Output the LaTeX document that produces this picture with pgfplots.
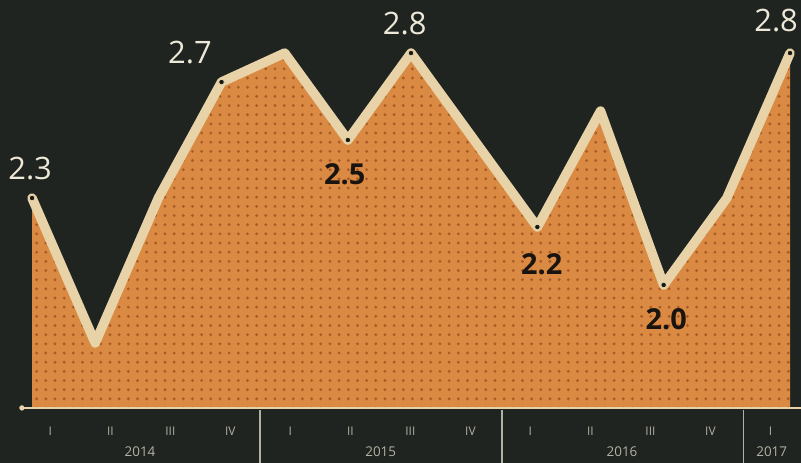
\documentclass[border=0pt]{standalone}
\usepackage{pgfplots}
\usepackage{pgfplotstable}
\pgfplotsset{compat=1.18}
\usetikzlibrary{patterns.meta}
\usepackage{fontspec}
\setmainfont{Open Sans}

\definecolor{bg}{HTML}{1F2420}
\definecolor{fillor}{HTML}{DA8A42}
\definecolor{dotor}{HTML}{A95C28}
\definecolor{linec}{HTML}{E8D3A8}
\definecolor{darklab}{HTML}{1A1410}
\definecolor{lightlab}{HTML}{EEE8D8}
\definecolor{tickc}{HTML}{B2B0A2}

\tikzdeclarepattern{
  name=bigdots,
  type=uncolored,
  bounding box={(-4.6pt,-4.6pt) and (4.6pt,4.6pt)},
  tile size={(9.2pt,9.2pt)},
  code={\fill (0pt,0pt) circle (1.6pt);}
}

% quarterly values, 2014 I .. 2017 I
\pgfplotstableread{
x y
0 2.3
1 1.8
2 2.3
3 2.7
4 2.8
5 2.5
6 2.8
7 2.5
8 2.2
9 2.6
10 2.0
11 2.3
12 2.8
}\series

\pgfplotstableread{
x y
0 1.576
0 2.3
1 1.8
2 2.3
3 2.7
4 2.8
5 2.5
6 2.8
7 2.5
8 2.2
9 2.6
10 2.0
11 2.3
12 2.8
12 1.576
}\area

\pgfplotstableread{
x y
0 2.3
3 2.7
5 2.5
6 2.8
8 2.2
10 2.0
12 2.8
}\marked

\begin{document}
\begin{tikzpicture}[
  qlab/.style={tickc, font=\fontsize{12}{12}\selectfont},
  ylab/.style={tickc, font=\fontsize{13.5}{13.5}\selectfont},
]
\begin{axis}[
  width=801bp, height=463bp, scale only axis,
  xmin=-0.507, xmax=12.174,
  ymin=1.386, ymax=2.983,
  axis line style={draw=none},
  ticks=none,
  axis background/.style={fill=bg},
]
\addplot[fill=fillor, draw=none, postaction={pattern=bigdots, pattern color=dotor}] table {\area};
% baseline
\addplot[linec, line width=1.6bp] coordinates {(-0.16,1.576) (12.17,1.576)};
\addplot[only marks, mark=*, mark size=2.4bp, color=linec] coordinates {(-0.16,1.576)};
\addplot[linec, line width=9.5bp, line join=round, line cap=round] table {\series};
\addplot[only marks, mark=*, mark size=2.8bp, mark options={fill=bg!70!black, draw=linec, line width=0.8bp}] table {\marked};

% value labels
\node[lightlab, font=\fontsize{31}{31}\selectfont, anchor=south] at (axis cs:-0.03,2.35) {2.3};
\node[lightlab, font=\fontsize{31}{31}\selectfont, anchor=south] at (axis cs:2.5,2.75) {2.7};
\node[lightlab, font=\fontsize{31}{31}\selectfont, anchor=south] at (axis cs:5.9,2.85) {2.8};
\node[lightlab, font=\fontsize{31}{31}\selectfont, anchor=south] at (axis cs:11.78,2.86) {2.8};
\node[darklab, font=\bfseries\fontsize{29}{29}\selectfont, anchor=north] at (axis cs:4.95,2.43) {2.5};
\node[darklab, font=\bfseries\fontsize{29}{29}\selectfont, anchor=north] at (axis cs:8.07,2.12) {2.2};
\node[darklab, font=\bfseries\fontsize{29}{29}\selectfont, anchor=north] at (axis cs:10.04,1.93) {2.0};

% quarter labels
\node[qlab] at (axis cs:0.29,1.495) {I};
\node[qlab] at (axis cs:1.24,1.495) {II};
\node[qlab] at (axis cs:2.19,1.495) {III};
\node[qlab] at (axis cs:3.14,1.495) {IV};
\node[qlab] at (axis cs:4.09,1.495) {I};
\node[qlab] at (axis cs:5.04,1.495) {II};
\node[qlab] at (axis cs:5.99,1.495) {III};
\node[qlab] at (axis cs:6.94,1.495) {IV};
\node[qlab] at (axis cs:7.89,1.495) {I};
\node[qlab] at (axis cs:8.84,1.495) {II};
\node[qlab] at (axis cs:9.79,1.495) {III};
\node[qlab] at (axis cs:10.74,1.495) {IV};
\node[qlab] at (axis cs:11.69,1.495) {I};
\node[ylab] at (axis cs:1.71,1.424) {2014};
\node[ylab] at (axis cs:5.52,1.424) {2015};
\node[ylab] at (axis cs:9.34,1.424) {2016};
\node[ylab] at (axis cs:11.71,1.424) {2017};
% year separators
\addplot[tickc, line width=1.2bp] coordinates {(3.61,1.569) (3.61,1.386)};
\addplot[tickc, line width=1.2bp] coordinates {(7.44,1.569) (7.44,1.386)};
\addplot[tickc, line width=1.2bp] coordinates {(11.26,1.569) (11.26,1.386)};
\end{axis}
\end{tikzpicture}
\end{document}
